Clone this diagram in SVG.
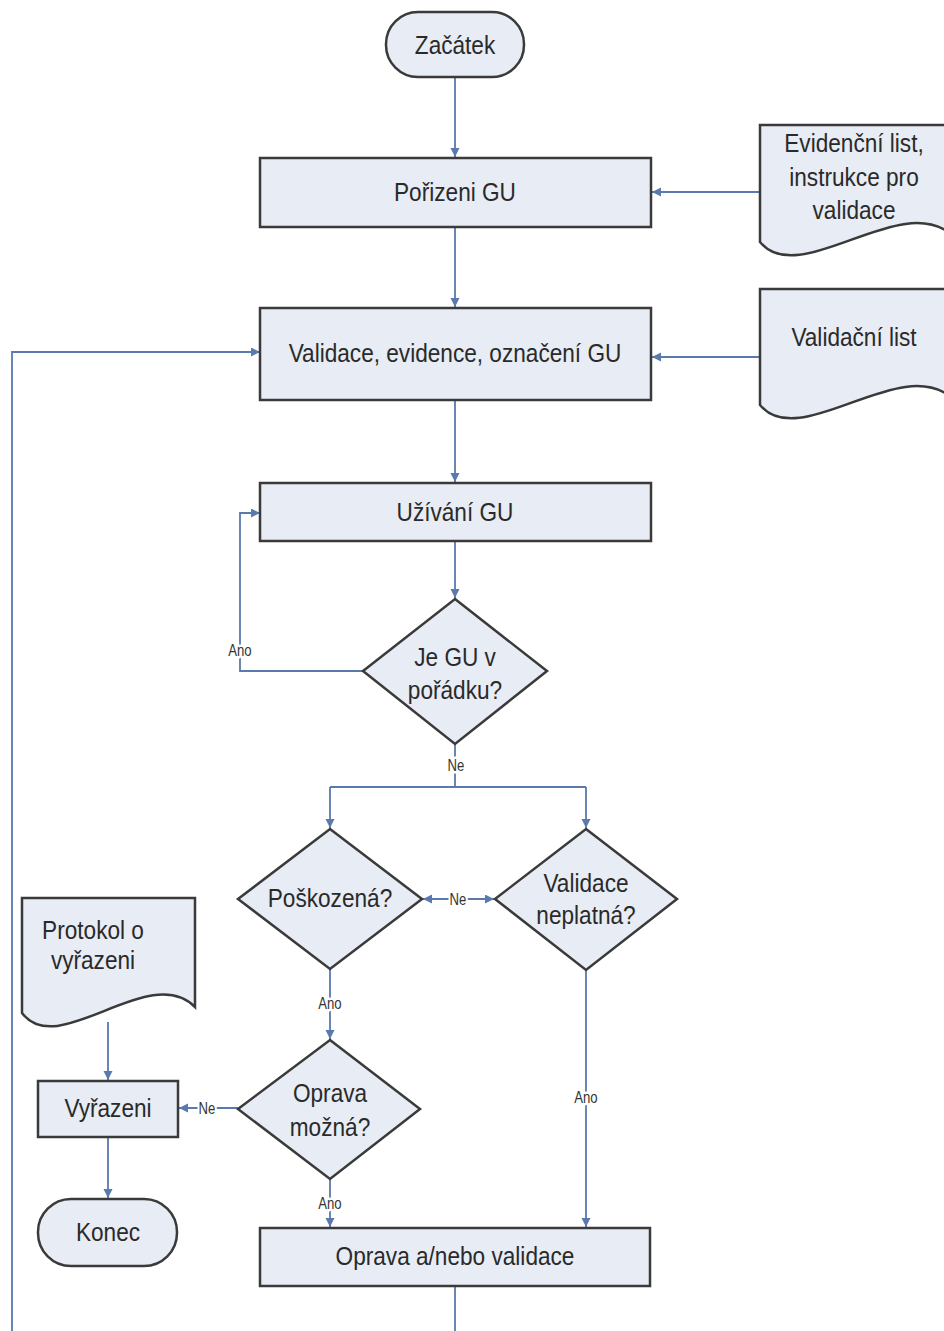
<svg xmlns="http://www.w3.org/2000/svg" width="944" height="1331" viewBox="0 0 944 1331">
  <style>
    .shape { fill: #e7ecf5; stroke: #3a3a3a; stroke-width: 2.5; }
    .txt { font-family: "Liberation Sans", Arial, sans-serif; font-size: 26px; fill: #2a2a2a; text-anchor: middle;
           transform-box: fill-box; transform-origin: center; transform: scaleX(0.87); }
    .wire { fill: none; stroke: #5a79ad; stroke-width: 1.8; }
    .lbl { font-family: "Liberation Sans", Arial, sans-serif; font-size: 16px; fill: #333; text-anchor: middle;
           paint-order: stroke; stroke: #ffffff; stroke-width: 5px; stroke-linejoin: round;
           transform-box: fill-box; transform-origin: center; transform: scaleX(0.82); }
  </style>
  <defs>
    <marker id="arrow" markerUnits="userSpaceOnUse" markerWidth="10" markerHeight="10" refX="9" refY="4.5" orient="auto-start-reverse">
      <path d="M0,0 L9,4.5 L0,9 Z" fill="#5a79ad"/>
    </marker>
  </defs>
  <rect width="944" height="1331" fill="#ffffff"/>

  <!-- connectors -->
  <g id="connectors">
    <path class="wire" d="M455,77 V157" marker-end="url(#arrow)"/>
    <path class="wire" d="M760,192 H652" marker-end="url(#arrow)"/>
    <path class="wire" d="M455,227 V307" marker-end="url(#arrow)"/>
    <path class="wire" d="M760,357 H652" marker-end="url(#arrow)"/>
    <path class="wire" d="M12,1331 V352 H260" marker-end="url(#arrow)"/>
    <path class="wire" d="M455,400 V482" marker-end="url(#arrow)"/>
    <path class="wire" d="M455,541 V598" marker-end="url(#arrow)"/>
    <path class="wire" d="M363,671 H240 V513 H260" marker-end="url(#arrow)"/>
    <path class="wire" d="M455,744 V787"/>
    <path class="wire" d="M330,787 H586"/>
    <path class="wire" d="M330,787 V828" marker-end="url(#arrow)"/>
    <path class="wire" d="M586,787 V828" marker-end="url(#arrow)"/>
    <path class="wire" d="M423,899 H494" marker-start="url(#arrow)" marker-end="url(#arrow)"/>
    <path class="wire" d="M330,969 V1039" marker-end="url(#arrow)"/>
    <path class="wire" d="M586,970 V1227" marker-end="url(#arrow)"/>
    <path class="wire" d="M238,1108 H179" marker-end="url(#arrow)"/>
    <path class="wire" d="M330,1179 V1227" marker-end="url(#arrow)"/>
    <path class="wire" d="M108,1022 V1080" marker-end="url(#arrow)"/>
    <path class="wire" d="M108,1137 V1198" marker-end="url(#arrow)"/>
    <path class="wire" d="M455,1286 V1331"/>

    <text class="lbl" x="240" y="656">Ano</text>
    <text class="lbl" x="456" y="771">Ne</text>
    <text class="lbl" x="458" y="905">Ne</text>
    <text class="lbl" x="330" y="1009">Ano</text>
    <text class="lbl" x="207" y="1114">Ne</text>
    <text class="lbl" x="330" y="1209">Ano</text>
    <text class="lbl" x="586" y="1103">Ano</text>
  </g>

  <g id="start">
    <rect class="shape" x="386" y="12" width="138" height="65" rx="32"/>
    <text class="txt" x="455" y="54">Začátek</text>
  </g>

  <g id="acquire">
    <rect class="shape" x="260" y="158" width="391" height="69"/>
    <text class="txt" x="455" y="201">Pořizeni GU</text>
  </g>

  <g id="doc-evidence">
    <path class="shape" d="M760,125 H952 V235 C 900,190 800,290 760,242 Z"/>
    <text class="txt" x="854" y="152">Evidenční list,</text>
    <text class="txt" x="854" y="186">instrukce pro</text>
    <text class="txt" x="854" y="219">validace</text>
  </g>

  <g id="validate">
    <rect class="shape" x="260" y="308" width="391" height="92"/>
    <text class="txt" x="455" y="362">Validace, evidence, označení GU</text>
  </g>

  <g id="doc-validation">
    <path class="shape" d="M760,289 H952 V398 C 900,353 800,453 760,405 Z"/>
    <text class="txt" x="854" y="346">Validační list</text>
  </g>

  <g id="use">
    <rect class="shape" x="260" y="483" width="391" height="58"/>
    <text class="txt" x="455" y="521">Užívání GU</text>
  </g>

  <g id="ok-check">
    <path class="shape" d="M455,599 L547,671 L455,744 L363,671 Z"/>
    <text class="txt" x="455" y="666">Je GU v</text>
    <text class="txt" x="455" y="699">pořádku?</text>
  </g>

  <g id="damaged">
    <path class="shape" d="M330,829 L422,899 L330,969 L238,899 Z"/>
    <text class="txt" x="330" y="907">Poškozená?</text>
  </g>

  <g id="invalid">
    <path class="shape" d="M586,829 L677,899 L586,970 L495,899 Z"/>
    <text class="txt" x="586" y="892">Validace</text>
    <text class="txt" x="586" y="924">neplatná?</text>
  </g>

  <g id="repairable">
    <path class="shape" d="M330,1040 L420,1109 L330,1179 L238,1109 Z"/>
    <text class="txt" x="330" y="1102">Oprava</text>
    <text class="txt" x="330" y="1136">možná?</text>
  </g>

  <g id="doc-protocol">
    <path class="shape" d="M22,898 H195 V1007 C 149,961 58,1061 22,1013 Z"/>
    <text class="txt" x="93" y="939">Protokol o</text>
    <text class="txt" x="93" y="969">vyřazeni</text>
  </g>

  <g id="discard">
    <rect class="shape" x="38" y="1081" width="140" height="56"/>
    <text class="txt" x="108" y="1117">Vyřazeni</text>
  </g>

  <g id="end">
    <rect class="shape" x="38" y="1199" width="139" height="67" rx="33"/>
    <text class="txt" x="108" y="1241">Konec</text>
  </g>

  <g id="repair">
    <rect class="shape" x="260" y="1228" width="390" height="58"/>
    <text class="txt" x="455" y="1265">Oprava a/nebo validace</text>
  </g>
</svg>
